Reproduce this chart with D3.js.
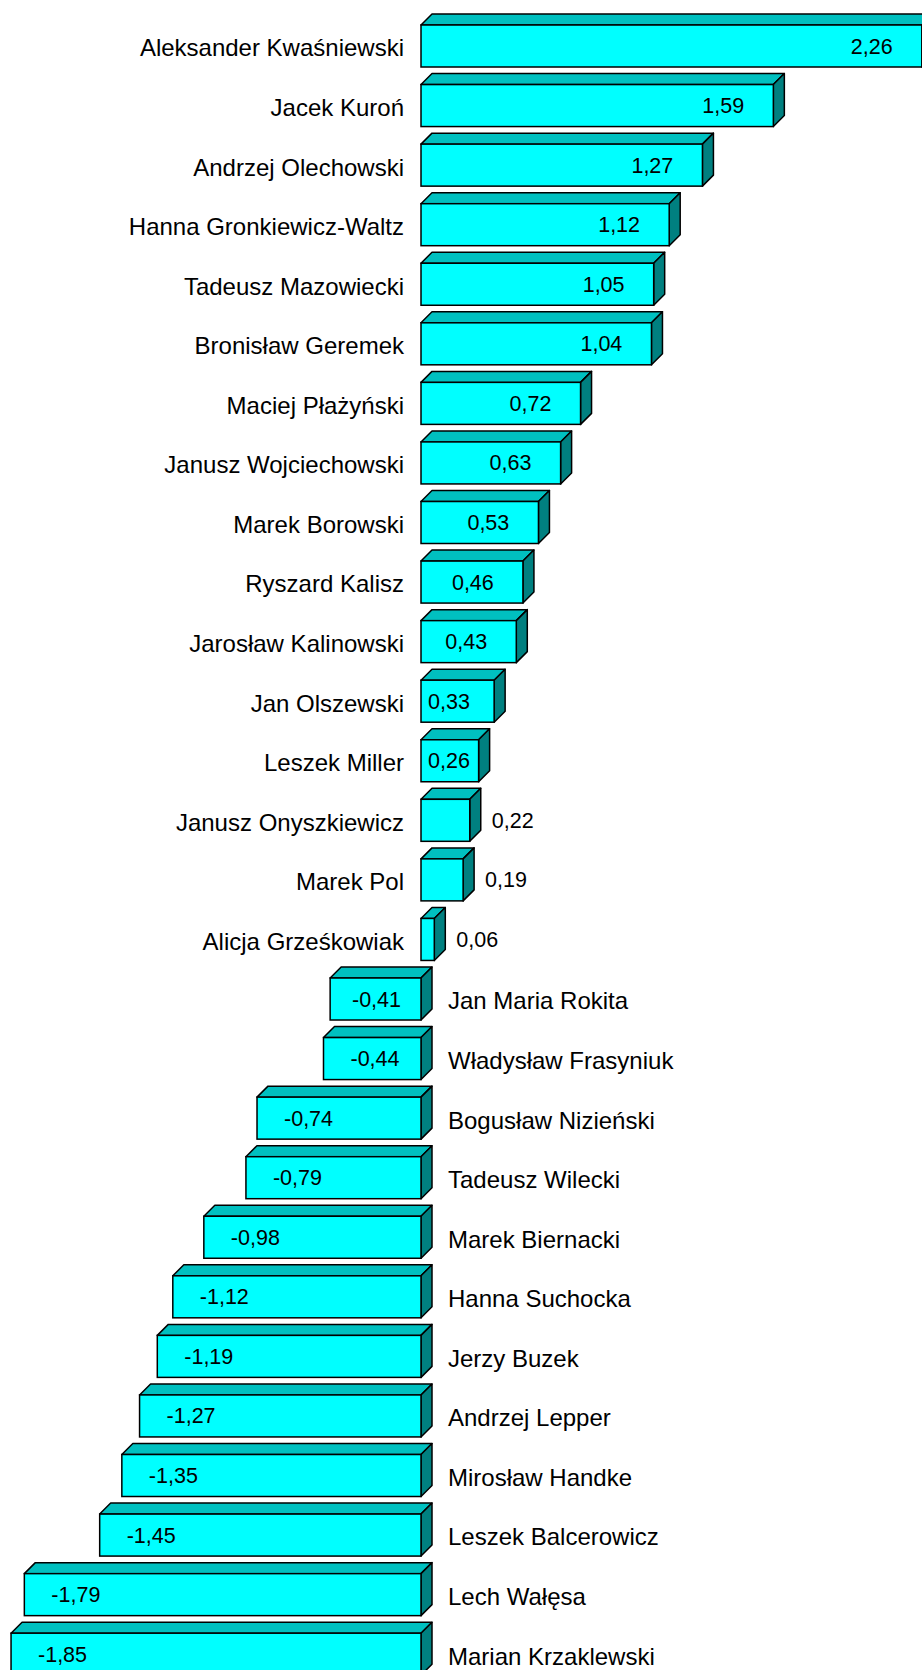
<!DOCTYPE html>
<html>
<head>
<meta charset="utf-8">
<script src="https://cdn.jsdelivr.net/npm/d3@7"></script>
<style>
  html, body { margin: 0; padding: 0; background: #fff; }
  svg { display: block; font-family: "Liberation Sans", Arial, sans-serif; }
</style>
</head>
<body>
<script>
const names = [
  'Aleksander Kwaśniewski', 'Jacek Kuroń', 'Andrzej Olechowski', 'Hanna Gronkiewicz-Waltz',
  'Tadeusz Mazowiecki', 'Bronisław Geremek', 'Maciej Płażyński', 'Janusz Wojciechowski',
  'Marek Borowski', 'Ryszard Kalisz', 'Jarosław Kalinowski', 'Jan Olszewski',
  'Leszek Miller', 'Janusz Onyszkiewicz', 'Marek Pol', 'Alicja Grześkowiak',
  'Jan Maria Rokita', 'Władysław Frasyniuk', 'Bogusław Nizieński', 'Tadeusz Wilecki',
  'Marek Biernacki', 'Hanna Suchocka', 'Jerzy Buzek', 'Andrzej Lepper',
  'Mirosław Handke', 'Leszek Balcerowicz', 'Lech Wałęsa', 'Marian Krzaklewski'
];
const values = [
  2.26, 1.59, 1.27, 1.12, 1.05, 1.04, 0.72, 0.63, 0.53, 0.46, 0.43, 0.33, 0.26, 0.22,
  0.19, 0.06, -0.41, -0.44, -0.74, -0.79, -0.98, -1.12, -1.19, -1.27, -1.35, -1.45,
  -1.79, -1.85
];

const width = 922, height = 1670;
const depth = 11;
const data = names.map((name, i) => ({ name, value: values[i] }));

const x = d3.scaleLinear()
  .domain([-1.85, 2.26])
  .range([421 - 1.85 * 221.6, 421 + 2.26 * 221.6]);

const y = d3.scaleBand()
  .domain(names)
  .range([25, 1675.2])
  .paddingInner(0.2948)
  .paddingOuter(0);

// polish decimal comma, plain hyphen for minus
const fmt = v => v.toFixed(2).replace('.', ',');

const svg = d3.select('body').append('svg')
  .attr('width', width)
  .attr('height', height);

const bar = svg.selectAll('g.bar')
  .data(data)
  .join('g')
    .attr('class', 'bar');

const x0 = d => x(Math.min(0, d.value));
const x1 = d => x(Math.max(0, d.value));
const h = y.bandwidth();

// top face
bar.append('path')
  .attr('d', d => {
    const t = y(d.name);
    return `M${x0(d)},${t}L${x0(d) + depth},${t - depth}L${x1(d) + depth},${t - depth}L${x1(d)},${t}Z`;
  })
  .attr('fill', '#00c0c0')
  .attr('stroke', '#000')
  .attr('stroke-width', 1.5)
  .attr('stroke-linejoin', 'round');

// side face
bar.append('path')
  .attr('d', d => {
    const t = y(d.name);
    return `M${x1(d)},${t}L${x1(d) + depth},${t - depth}L${x1(d) + depth},${t + h - depth}L${x1(d)},${t + h}Z`;
  })
  .attr('fill', '#008080')
  .attr('stroke', '#000')
  .attr('stroke-width', 1.5)
  .attr('stroke-linejoin', 'round');

// front face
bar.append('rect')
  .attr('x', d => x0(d))
  .attr('y', d => y(d.name))
  .attr('width', d => x1(d) - x0(d))
  .attr('height', h)
  .attr('fill', '#00ffff')
  .attr('stroke', '#000')
  .attr('stroke-width', 1.5);

// category labels
svg.selectAll('text.cat')
  .data(data)
  .join('text')
    .attr('class', 'cat')
    .attr('x', d => d.value >= 0 ? x(0) - 17 : x(0) + 27)
    .attr('y', d => y(d.name) + h / 2 + 2)
    .attr('dy', '0.35em')
    .attr('text-anchor', d => d.value >= 0 ? 'end' : 'start')
    .attr('font-size', 24)
    .attr('fill', '#000')
    .text(d => d.name);

// value labels
const labelW = 45;
svg.selectAll('text.val')
  .data(data)
  .join('text')
    .attr('class', 'val')
    .attr('y', d => y(d.name) + h / 2)
    .attr('dy', '0.35em')
    .attr('font-size', 21.5)
    .attr('fill', '#000')
    .attr('text-anchor', 'start')
    .attr('x', d => {
      const w = x1(d) - x0(d);
      if (d.value >= 0) {
        if (w < labelW + 10) return x1(d) + depth + 11;
        return Math.max(x(0) + 7, x1(d) - 26 - labelW);
      }
      return Math.min(x0(d) + 27, x(0) - 20 - labelW - 4);
    })
    .text(d => fmt(d.value));
</script>
</body>
</html>
